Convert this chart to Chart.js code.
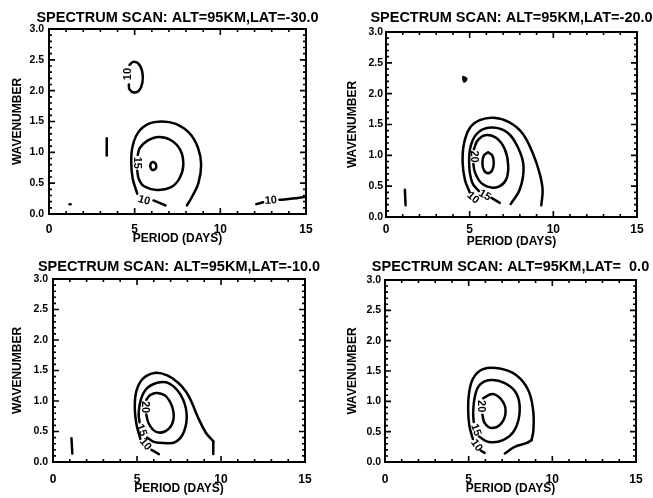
<!DOCTYPE html>
<html>
<head>
<meta charset="utf-8">
<script src="https://cdn.jsdelivr.net/npm/chart.js@4.4.1/dist/chart.umd.min.js"></script>
<style>
  html, body { margin: 0; padding: 0; background: #fff; overflow: hidden; }
  #wrap { position: relative; width: 653px; height: 498px; }
  canvas { position: absolute; }
</style>
</head>
<body>
<div id="wrap">
  <canvas id="c0" width="326" height="249" style="left:0;top:0"></canvas>
  <canvas id="c1" width="327" height="249" style="left:326px;top:0"></canvas>
  <canvas id="c2" width="326" height="249" style="left:0;top:249px"></canvas>
  <canvas id="c3" width="327" height="249" style="left:326px;top:249px"></canvas>
</div>
<script>
// axes
const periodTicks = [0, 5, 10, 15];
const wavenumberTicks = [0.0, 0.5, 1.0, 1.5, 2.0, 2.5, 3.0];
const latitudes = ['-30.0', '-20.0', '-10.0', '  0.0'];

// contour lines [period, wavenumber]
const lat30Lines = [
  [[5.15,0.33],[4.88,0.58],[4.8,0.85],[4.88,1.1],[5.2,1.32],[5.8,1.46],[6.6,1.5],[7.4,1.46],[8.2,1.31],[8.7,1.07],[8.88,0.8],[8.72,0.5],[8.35,0.28],[8.05,0.14]],
  [[6.1,0.22],[6.8,0.14]],
  [[5.15,0.7],[5.25,0.56],[5.55,0.45],[6.3,0.39],[7.1,0.43],[7.62,0.58],[7.84,0.8],[7.66,1.04],[7.1,1.2],[6.4,1.25],[5.75,1.19],[5.3,1.07],[5.18,0.96]],
  [[5.9,0.78],[5.97,0.83],[6.12,0.84],[6.26,0.79],[6.2,0.73],[6.0,0.72],[5.9,0.78]],
  [[4.7,2.42],[4.95,2.47],[5.25,2.43],[5.45,2.3],[5.45,2.13],[5.25,2.0],[4.95,1.97],[4.7,2.02],[4.66,2.1]],
  [[12.1,0.16],[12.5,0.19]],
  [[13.45,0.23],[14.2,0.25],[15,0.28]],
  [[3.37,0.95],[3.37,1.23]],
  [[1.2,0.16],[1.26,0.16]]
];
const lat30Labels = [[5.55,0.22,'10',15],[5.15,0.83,'15',90],[4.63,2.27,'10',-90],[12.95,0.22,'10',-4]];

const lat20Lines = [
  [[5.0,0.4],[4.72,0.6],[4.58,0.88],[4.66,1.19],[5.0,1.44],[5.6,1.57],[6.45,1.61],[7.35,1.54],[8.15,1.36],[8.78,1.03],[9.18,0.71],[9.36,0.44],[9.28,0.19]],
  [[5.55,0.42],[5.15,0.56],[4.97,0.85],[5.08,1.17],[5.55,1.38],[6.35,1.45],[7.25,1.37],[7.9,1.12],[8.22,0.82],[8.0,0.45],[7.45,0.21]],
  [[6.3,0.31],[6.8,0.23]],
  [[5.25,1.1],[5.5,1.25],[6.0,1.33],[6.6,1.28],[7.1,1.1],[7.3,0.85],[7.2,0.62],[6.8,0.5],[6.3,0.48],[5.7,0.55],[5.32,0.72],[5.22,0.86]],
  [[6.1,1.05],[6.35,1.0],[6.44,0.88],[6.35,0.76],[6.1,0.71],[5.85,0.76],[5.76,0.88],[5.85,1.0],[6.1,1.05]],
  [[4.62,2.27],[4.8,2.24],[4.66,2.2],[4.62,2.27]],
  [[1.13,0.44],[1.17,0.19]]
];
const lat20Labels = [[5.2,0.31,'10',40],[5.9,0.35,'15',30],[5.24,0.98,'20',90]];

const lat10Lines = [
  [[5.2,0.38],[4.98,0.6],[4.87,0.88],[4.97,1.17],[5.37,1.37],[6.05,1.46],[6.8,1.42],[7.45,1.3],[7.95,1.14],[8.3,0.95],[8.6,0.75],[9.1,0.48],[9.54,0.34]],
  [[9.54,0.34],[9.54,0.13]],
  [[5.86,0.2],[6.3,0.13]],
  [[5.6,0.4],[6.0,0.33],[6.6,0.31],[7.3,0.33],[7.8,0.5],[7.95,0.8],[7.6,1.1],[6.9,1.29],[6.2,1.3],[5.6,1.21],[5.25,1.04],[5.1,0.8],[5.15,0.65]],
  [[5.55,1.02],[5.8,1.1],[6.2,1.13],[6.75,1.07],[7.15,0.85],[7.1,0.63],[6.65,0.5],[6.1,0.5],[5.7,0.63],[5.55,0.78]],
  [[1.1,0.39],[1.15,0.14]]
];
const lat10Labels = [[5.5,0.29,'10',50],[5.27,0.52,'15',70],[5.45,0.9,'20',90]];

const lat0Lines = [
  [[5.25,0.38],[5.04,0.6],[4.97,0.86],[5.02,1.13],[5.27,1.38],[5.86,1.53],[6.86,1.54],[7.85,1.43],[8.55,1.19],[8.85,0.86],[8.87,0.53],[8.76,0.36]],
  [[8.76,0.36],[8.44,0.31],[7.75,0.25],[7.16,0.14]],
  [[5.72,0.19],[5.95,0.15]],
  [[5.62,0.42],[6.2,0.33],[7.05,0.36],[7.75,0.53],[8.05,0.84],[7.85,1.13],[7.16,1.3],[6.3,1.35],[5.66,1.27],[5.37,1.08],[5.27,0.82],[5.3,0.66]],
  [[5.86,1.05],[6.46,1.12],[7.05,0.99],[7.2,0.8],[6.9,0.62],[6.36,0.56],[5.96,0.64],[5.82,0.78]]
];
const lat0Labels = [[5.47,0.27,'10',55],[5.43,0.53,'15',70],[5.76,0.92,'20',90]];

const panelLines = [lat30Lines, lat20Lines, lat10Lines, lat0Lines];
const panelLabels = [lat30Labels, lat20Labels, lat10Labels, lat0Labels];

// layout of each panel inside its canvas (pixels)
const panelBox = [
  { axisW: 49, axisH: 35, padTop: 29, padRight: 20, titleY: 18, yTitleX: 18, xTickPad: 8,  xTitlePad: 3, yTickPad: 5 },
  { axisW: 60, axisH: 32, padTop: 32, padRight: 16, titleY: 18, yTitleX: 27, xTickPad: 5,  xTitlePad: 0, yTickPad: 3 },
  { axisW: 53, axisH: 36, padTop: 30, padRight: 21, titleY: 18, yTitleX: 18, xTickPad: 10, xTitlePad: 2, yTickPad: 5 },
  { axisW: 59, axisH: 36, padTop: 31, padRight: 17, titleY: 18, yTitleX: 27, xTickPad: 10, xTitlePad: 2, yTickPad: 4 }
];

const FONT = '"Liberation Sans", Arial, sans-serif';
Chart.defaults.font.family = FONT;
Chart.defaults.font.weight = 'bold';
Chart.defaults.color = '#000';

// IDL style frame with inward ticks on all four sides
const frameTicks = {
  id: 'frameTicks',
  afterDatasetsDraw(chart) {
    const { ctx, chartArea: a, scales: { x, y } } = chart;
    ctx.save();
    ctx.strokeStyle = '#000';
    ctx.lineWidth = 2;
    ctx.strokeRect(a.left, a.top, a.right - a.left, a.bottom - a.top);
    ctx.lineWidth = 1.6;
    ctx.beginPath();
    for (let p = 0; p <= 15; p++) {
      const px = x.getPixelForValue(p);
      const len = p % 5 === 0 ? 6 : 3;
      ctx.moveTo(px, a.bottom); ctx.lineTo(px, a.bottom - len);
      ctx.moveTo(px, a.top); ctx.lineTo(px, a.top + len);
    }
    for (let i = 0; i <= 30; i++) {
      const py = y.getPixelForValue(i / 10);
      const len = i % 5 === 0 ? 6 : 3;
      ctx.moveTo(a.left, py); ctx.lineTo(a.left + len, py);
      ctx.moveTo(a.right, py); ctx.lineTo(a.right - len, py);
    }
    ctx.stroke();
    ctx.restore();
  }
};

function titlePlugin(text, yPos) {
  return {
    id: 'panelTitle',
    afterDraw(chart) {
      const { ctx, chartArea: a } = chart;
      ctx.save();
      ctx.font = 'bold 14.5px ' + FONT;
      ctx.fillStyle = '#000';
      ctx.textAlign = 'center';
      ctx.textBaseline = 'middle';
      ctx.fillText(text, (a.left + a.right) / 2, yPos);
      ctx.restore();
    }
  };
}

function labelPlugin(labels) {
  return {
    id: 'contourLabels',
    afterDatasetsDraw(chart) {
      const { ctx, scales: { x, y } } = chart;
      ctx.save();
      ctx.font = 'bold 11px ' + FONT;
      ctx.fillStyle = '#000';
      ctx.textAlign = 'center';
      ctx.textBaseline = 'middle';
      labels.forEach(([p, w, txt, ang]) => {
        ctx.save();
        ctx.translate(x.getPixelForValue(p), y.getPixelForValue(w));
        ctx.rotate(ang * Math.PI / 180);
        ctx.fillText(txt, 0, 0);
        ctx.restore();
      });
      ctx.restore();
    }
  };
}

panelLines.forEach((lines, i) => {
  const box = panelBox[i];
  const datasets = lines.map(line => ({
    data: line.map(([p, w]) => ({ x: p, y: w })),
    showLine: true,
    pointRadius: 0,
    borderColor: '#000',
    borderWidth: 2.5,
    borderCapStyle: 'round',
    borderJoinStyle: 'round',
    tension: 0.4,
    fill: false
  }));

  new Chart(document.getElementById('c' + i), {
    type: 'scatter',
    data: { datasets },
    options: {
      responsive: false,
      animation: false,
      events: [],
      layout: { padding: { top: box.padTop, right: box.padRight, left: 0, bottom: 0 } },
      plugins: { legend: { display: false }, tooltip: { enabled: false } },
      scales: {
        x: {
          type: 'linear',
          min: periodTicks[0],
          max: periodTicks[periodTicks.length - 1],
          afterBuildTicks: s => { s.ticks = periodTicks.map(v => ({ value: v })); },
          ticks: { font: { size: 12, lineHeight: 1.2 }, padding: box.xTickPad, maxRotation: 0, autoSkip: false },
          grid: { display: false, drawTicks: false },
          border: { display: false },
          title: { display: true, text: 'PERIOD (DAYS)', font: { size: 12, lineHeight: 1.2 }, padding: { top: 0, bottom: box.xTitlePad } },
          afterFit: s => { s.height = box.axisH; }
        },
        y: {
          type: 'linear',
          min: wavenumberTicks[0],
          max: wavenumberTicks[wavenumberTicks.length - 1],
          afterBuildTicks: s => { s.ticks = wavenumberTicks.map(v => ({ value: v })); },
          ticks: { font: { size: 10.5, lineHeight: 1.2 }, padding: box.yTickPad, callback: v => v.toFixed(1) },
          grid: { display: false, drawTicks: false },
          border: { display: false },
          title: { display: true, text: 'WAVENUMBER', font: { size: 12, lineHeight: 1.2 }, padding: { top: box.yTitleX - 7.2, bottom: 0 } },
          afterFit: s => { s.width = box.axisW; }
        }
      }
    },
    plugins: [frameTicks, titlePlugin('SPECTRUM SCAN: ALT=95KM,LAT=' + latitudes[i], box.titleY), labelPlugin(panelLabels[i])]
  });
});
</script>
</body>
</html>
